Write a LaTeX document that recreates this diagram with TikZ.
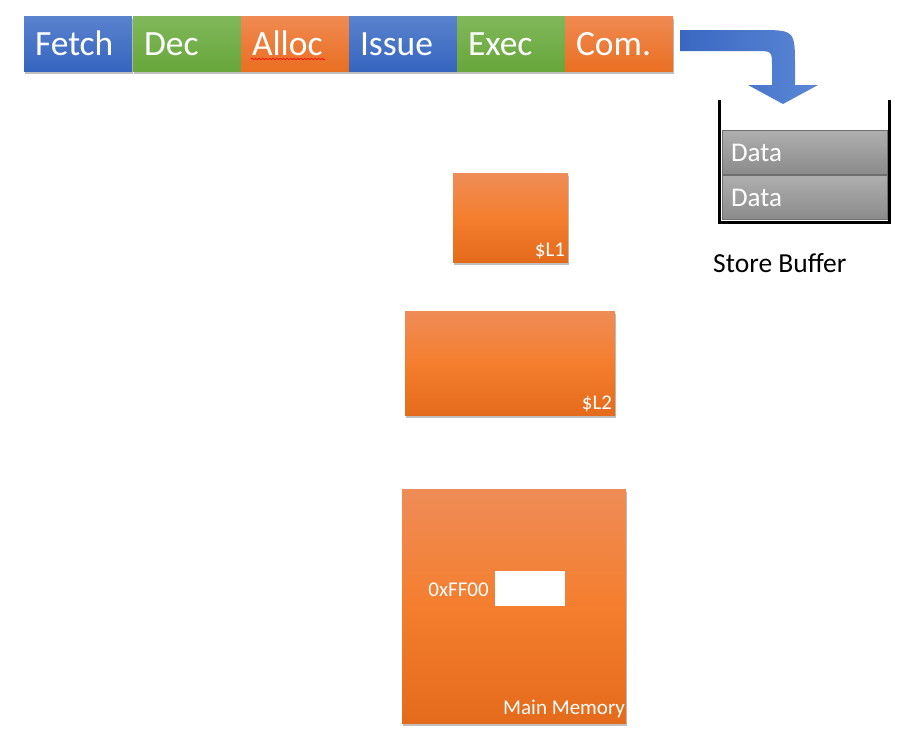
\documentclass[tikz,border=0pt]{standalone}
\usepackage{fontspec}
\setmainfont{Carlito}
\usepackage{tikz}
\usetikzlibrary{positioning,shadows,decorations.pathmorphing}

\definecolor{stageblueT}{HTML}{5A83CE}
\definecolor{stageblueB}{HTML}{3665BF}
\definecolor{stagegreenT}{HTML}{80B85A}
\definecolor{stagegreenB}{HTML}{67A73B}
\definecolor{stageorangeT}{HTML}{F08A52}
\definecolor{stageorangeB}{HTML}{E96F22}
\definecolor{cacheT}{HTML}{EF8C57}
\definecolor{cacheM}{HTML}{F47E2E}
\definecolor{cacheB}{HTML}{E46B1B}
\definecolor{arrowL}{HTML}{3A67C1}
\definecolor{arrowR}{HTML}{5B87D6}
\definecolor{rowT}{HTML}{AFAFAF}
\definecolor{rowB}{HTML}{8B8B8B}

\tikzset{
  stage/.style={rectangle, minimum width=108pt, minimum height=55pt, inner xsep=11pt,
    text width=86pt, align=left, text=white, text height=24pt, text depth=0pt,
    font=\fontsize{35.5}{40}\selectfont,
    drop shadow={shadow xshift=1pt, shadow yshift=-2.5pt, opacity=0.25, fill=black}},
  blueStage/.style={stage, top color=stageblueT, bottom color=stageblueB},
  greenStage/.style={stage, top color=stagegreenT, bottom color=stagegreenB},
  orangeStage/.style={stage, top color=stageorangeT, bottom color=stageorangeB},
  cache/.style={rectangle, top color=cacheT, bottom color=cacheB, middle color=cacheM,
    drop shadow={shadow xshift=1pt, shadow yshift=-2.5pt, opacity=0.25, fill=black}},
  cachelabel/.style={text=white, inner sep=3pt, font=\fontsize{21}{24}\selectfont},
  bufrow/.style={rectangle, minimum width=165pt, minimum height=44pt, inner xsep=9pt,
    text width=147pt, align=left, text=white, top color=rowT, bottom color=rowB,
    text height=18pt, text depth=0pt,
    draw=rowB!80!black, line width=0.8pt, font=\fontsize{27}{30}\selectfont}
}

\begin{document}
\begin{tikzpicture}[x=1pt, y=-1pt]
	\useasboundingbox (0,0) rectangle (910,737);

	% Pipeline
	\node[blueStage]   (fetch) at (78,43.5)  {Fetch};
	\node[greenStage]  (dec)   at (187,43.5) {Dec};
	\node[orangeStage] (alloc) at (295,43.5) {Alloc};
	\node[blueStage]   (issue) at (403,43.5) {Issue};
	\node[greenStage]  (exec)  at (511,43.5) {Exec};
	\node[orangeStage] (com)   at (619,43.5) {Com.};

	% spell check squiggle
	\draw[red, line width=0.6pt, decorate, decoration={snake, amplitude=0.9pt, segment length=3.5pt}]
		(251,59) -- (325,59);

	% Bent arrow to the store buffer
	\shade[left color=arrowL, right color=arrowR]
		(680,30) -- (758,30) .. controls (795,30) .. (795,67) -- (795,85) -- (818,85)
		-- (783,104) -- (748,85) -- (772,85) -- (772,67)
		.. controls (772,51) .. (756,51) -- (680,51) -- cycle;

	% Store buffer
	\node[bufrow] (row1) at (804.5,152) {Data};
	\node[bufrow] (row2) at (804.5,197) {Data};
	\draw[line width=3pt] (719,100) -- (719,222) -- (889,222) -- (889,100);
	\node[anchor=west, inner sep=0pt, font=\fontsize{27.5}{30}\selectfont] (sblabel) at (713,263) {Store Buffer};

	% Caches
	\node[cache, minimum width=115pt, minimum height=89pt] (L1) at (510.5,217.5) {};
	\node[cachelabel, anchor=south east] (L1label) at (L1.south east) {\$L1};

	\node[cache, minimum width=210pt, minimum height=104pt] (L2) at (510,363) {};
	\node[cachelabel, anchor=south east] (L2label) at (L2.south east) {\$L2};

	% Main memory
	\node[cache, minimum width=224pt, minimum height=234pt] (mem) at (514,606) {};
	\node[cachelabel, anchor=south east, inner xsep=1pt, inner ysep=5pt] (memlabel) at (mem.south east) {Main Memory};
	\node[rectangle, fill=white, minimum width=70pt, minimum height=35pt] (cell) at (530,588.5) {};
	\node[cachelabel, anchor=east, inner sep=0pt] (addr) at (489,590) {0xFF00};
\end{tikzpicture}
\end{document}
